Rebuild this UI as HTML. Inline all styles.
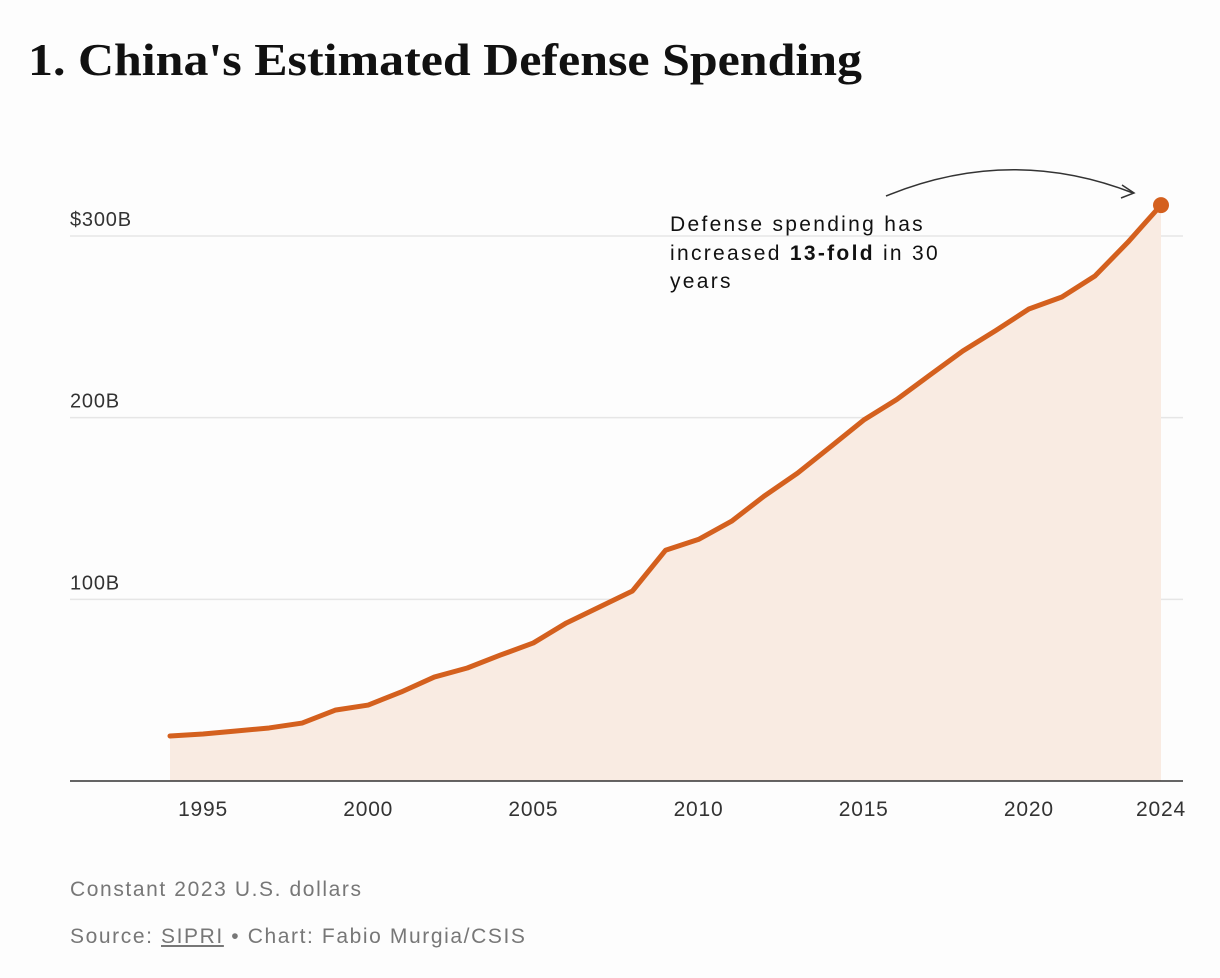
<!DOCTYPE html>
<html><head><meta charset="utf-8">
<style>
body{margin:0;background:#fdfdfd;width:1220px;height:978px;overflow:hidden;font-family:"Liberation Sans",sans-serif;}
#title{position:absolute;left:28px;top:34px;font-family:"Liberation Serif",serif;font-weight:bold;font-size:45px;color:#111;margin:0;transform:scaleX(1.11);transform-origin:left top;white-space:nowrap;}
.note{position:absolute;left:70px;font-size:21px;color:#777;letter-spacing:1.6px;}
svg text{letter-spacing:0.8px;}
</style></head><body>
<h1 id="title">1. China's Estimated Defense Spending</h1>
<svg id="chart" width="1220" height="978" style="position:absolute;left:0;top:0"></svg>
<div class="note" style="top:878px">Constant 2023 U.S. dollars</div>
<div class="note" style="top:925px">Source: <span style="text-decoration:underline">SIPRI</span> • Chart: Fabio Murgia/CSIS</div>
<script>
const years=[1994,1995,1996,1997,1998,1999,2000,2001,2002,2003,2004,2005,2006,2007,2008,2009,2010,2011,2012,2013,2014,2015,2016,2017,2018,2019,2020,2021,2022,2023,2024];
const spending=[24.8,25.9,27.5,29.2,31.9,39,41.8,49,57.2,62.2,69.3,76,87,95.8,104.6,127,133,143,157,169.5,184,198.7,210,223.4,236.7,248,259.8,266.4,278,296.6,317];
const yTicks=[100,200,300];
const yTickLabels=["100B","200B","$300B"];
const xTicks=[1995,2000,2005,2010,2015,2020,2024];
const NS="http://www.w3.org/2000/svg";
const svg=document.getElementById('chart');
const x=v=>170+(v-1994)*(1161-170)/30;
const y=v=>781-v*1.8167;
function mk(t,a){const e=document.createElementNS(NS,t);for(const k in a)e.setAttribute(k,a[k]);svg.appendChild(e);return e;}
yTicks.forEach((t,i)=>{
 const g=mk('line',{x1:70,x2:1183,y1:y(t),y2:y(t),stroke:'#e6e6e6','stroke-width':1.5});
 
 
 const l=mk('text',{x:70,y:y(t)-10,'font-size':20,fill:'#333'});l.textContent=yTickLabels[i];
 
 
});
let pts=years.map((yr,i)=>x(yr)+','+y(spending[i])).join(' ');
const area=mk('polygon',{points:x(years[0])+','+y(0)+' '+pts+' '+x(years[years.length-1])+','+y(0),fill:'#f9ebe2'});


const base=mk('line',{x1:70,x2:1183,y1:y(0),y2:y(0),stroke:'#333','stroke-width':1.5});


const line=mk('polyline',{points:pts,fill:'none',stroke:'#d4601e','stroke-width':5,'stroke-linejoin':'round','stroke-linecap':'round'});


const last=years.length-1;
const dot=mk('circle',{cx:x(years[last]),cy:y(spending[last]),r:8,fill:'#d4601e'});


xTicks.forEach(t=>{
 const l=mk('text',{x:x(t),y:816,'font-size':21,fill:'#333','text-anchor':'middle'});l.textContent=t;
 
 
});
const arr=mk('path',{d:'M886,196 Q1010,145 1133,193',fill:'none',stroke:'#333','stroke-width':1.5});


const ah=mk('path',{d:'M1122,185 L1134,193 L1121,198',fill:'none',stroke:'#333','stroke-width':1.5});


const ann=mk('text',{x:670,'font-size':21,fill:'#111',style:'letter-spacing:2.3px'});


ann.innerHTML='<tspan x="670" y="231">Defense spending has</tspan><tspan x="670" y="260">increased <tspan font-weight="bold">13-fold</tspan> in 30</tspan><tspan x="670" y="288">years</tspan>';
</script>
</body></html>
